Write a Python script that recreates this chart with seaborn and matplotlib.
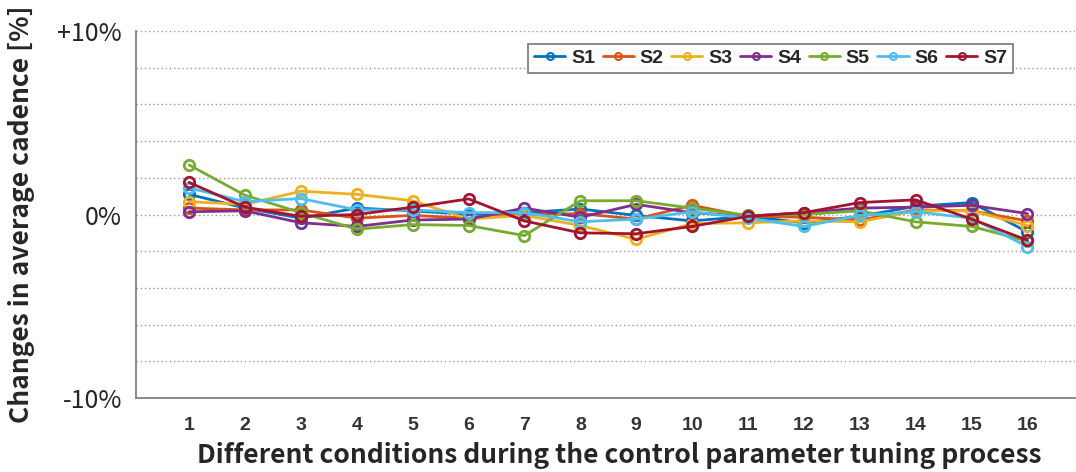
import pandas as pd
import matplotlib.pyplot as plt
import seaborn as sns

# Daten: Bedingungen 1..16, Veränderung der Kadenz in %
conditions = list(range(1, 17))
subjects = ["S1", "S2", "S3", "S4", "S5", "S6", "S7"]
colors = ["#0072BD", "#D95319", "#EDB120", "#7E2F8E", "#77AC30", "#4DBEEE", "#A2142F"]

s1 = [1.1, 0.35, -0.2, 0.35, 0.2, 0.0, 0.1, 0.3, -0.05, -0.35, -0.1, -0.45, -0.1, 0.45, 0.65, -0.95]
s2 = [0.35, 0.25, 0.25, -0.2, -0.05, -0.2, 0.0, 0.05, -0.25, 0.5, -0.1, -0.15, -0.3, 0.25, 0.2, -0.35]
s3 = [0.7, 0.55, 1.27, 1.1, 0.75, -0.25, -0.05, -0.6, -1.35, -0.5, -0.45, -0.35, -0.4, 0.2, 0.2, -0.6]
s4 = [0.15, 0.2, -0.45, -0.65, -0.3, -0.25, 0.35, -0.15, 0.55, 0.1, -0.1, 0.1, 0.35, 0.4, 0.5, 0.05]
s5 = [2.7, 1.05, 0.1, -0.8, -0.55, -0.6, -1.15, 0.75, 0.75, 0.35, -0.05, 0.0, 0.2, -0.4, -0.65, -1.45]
s6 = [1.45, 0.7, 0.87, 0.25, 0.25, 0.1, 0.1, -0.4, -0.25, 0.15, -0.2, -0.65, -0.05, 0.15, -0.2, -1.75]
s7 = [1.75, 0.4, -0.1, 0.0, 0.4, 0.85, -0.35, -1.0, -1.05, -0.65, -0.1, 0.1, 0.65, 0.8, -0.25, -1.4]

series = [s1, s2, s3, s4, s5, s6, s7]

rows = []
for name, vals in zip(subjects, series):
    for c, v in zip(conditions, vals):
        rows.append({"condition": c, "change": v, "subject": name})
df = pd.DataFrame(rows)

sns.set_style("white")
plt.rcParams["font.family"] = ["Noto Sans CJK KR", "DejaVu Sans"]

fig = plt.figure(figsize=(10.76, 4.72), dpi=100)
ax = fig.add_axes([0.1264, 0.1568, 0.8726, 0.7775])

sns.lineplot(data=df, x="condition", y="change", hue="subject", hue_order=subjects,
             palette=colors, marker="o", markersize=7.5, markerfacecolor="none",
             markeredgewidth=2.0, linewidth=2.0, dashes=False, legend=False, ax=ax)

# seaborn setzt weiße Markerränder -> auf Linienfarbe zurücksetzen
lines = ax.lines[:7]
for ln, col in zip(lines, colors):
    ln.set_markeredgecolor(col)
    ln.set_markerfacecolor("none")
    ln.set_linestyle("-")

ax.set_xlim(0.05, 16.85)
ax.set_ylim(-10, 10)
yt = list(range(-10, 11, 2))
ax.set_yticks(yt)
ax.set_yticklabels(["+10%" if t == 10 else ("0%" if t == 0 else ("-10%" if t == -10 else "")) for t in yt],
                   fontsize=18)
ax.set_xticks(conditions)
ax.set_xticklabels([str(c) for c in conditions], fontsize=14, fontweight="bold",
                   family=["Liberation Sans", "DejaVu Sans"], color="#333333")
ax.tick_params(axis="both", direction="in", length=5, color="#666666", width=1)
ax.tick_params(axis="y", pad=10)
ax.tick_params(axis="x", pad=14)

ax.grid(axis="y", linestyle=(0, (1, 2)), color="#999999", linewidth=1.0)
for side in ["top", "right"]:
    ax.spines[side].set_visible(False)
for side in ["left", "bottom"]:
    ax.spines[side].set_color("#777777")
    ax.spines[side].set_linewidth(1.2)

ax.set_xlabel("Different conditions during the control parameter tuning process",
              fontsize=19, fontweight="bold")
ax.xaxis.set_label_coords(0.515, -0.12)
ax.set_ylabel("Changes in average cadence [%]", fontsize=19, fontweight="bold", labelpad=16)

leg = ax.legend(handles=lines, labels=subjects, ncol=7, loc="upper right",
                bbox_to_anchor=(0.934, 0.965), frameon=True, fancybox=False,
                prop={"family": ["Liberation Sans", "DejaVu Sans"], "weight": "bold", "size": 14},
                handlelength=1.6, handletextpad=0.3, columnspacing=0.4,
                borderpad=0.3, borderaxespad=0)
leg.get_frame().set_edgecolor("#555555")
leg.get_frame().set_linewidth(1.2)
for h in leg.legend_handles:
    h.set_markersize(5)
    h.set_markeredgewidth(1.5)

plt.savefig("out.png", dpi=100)
